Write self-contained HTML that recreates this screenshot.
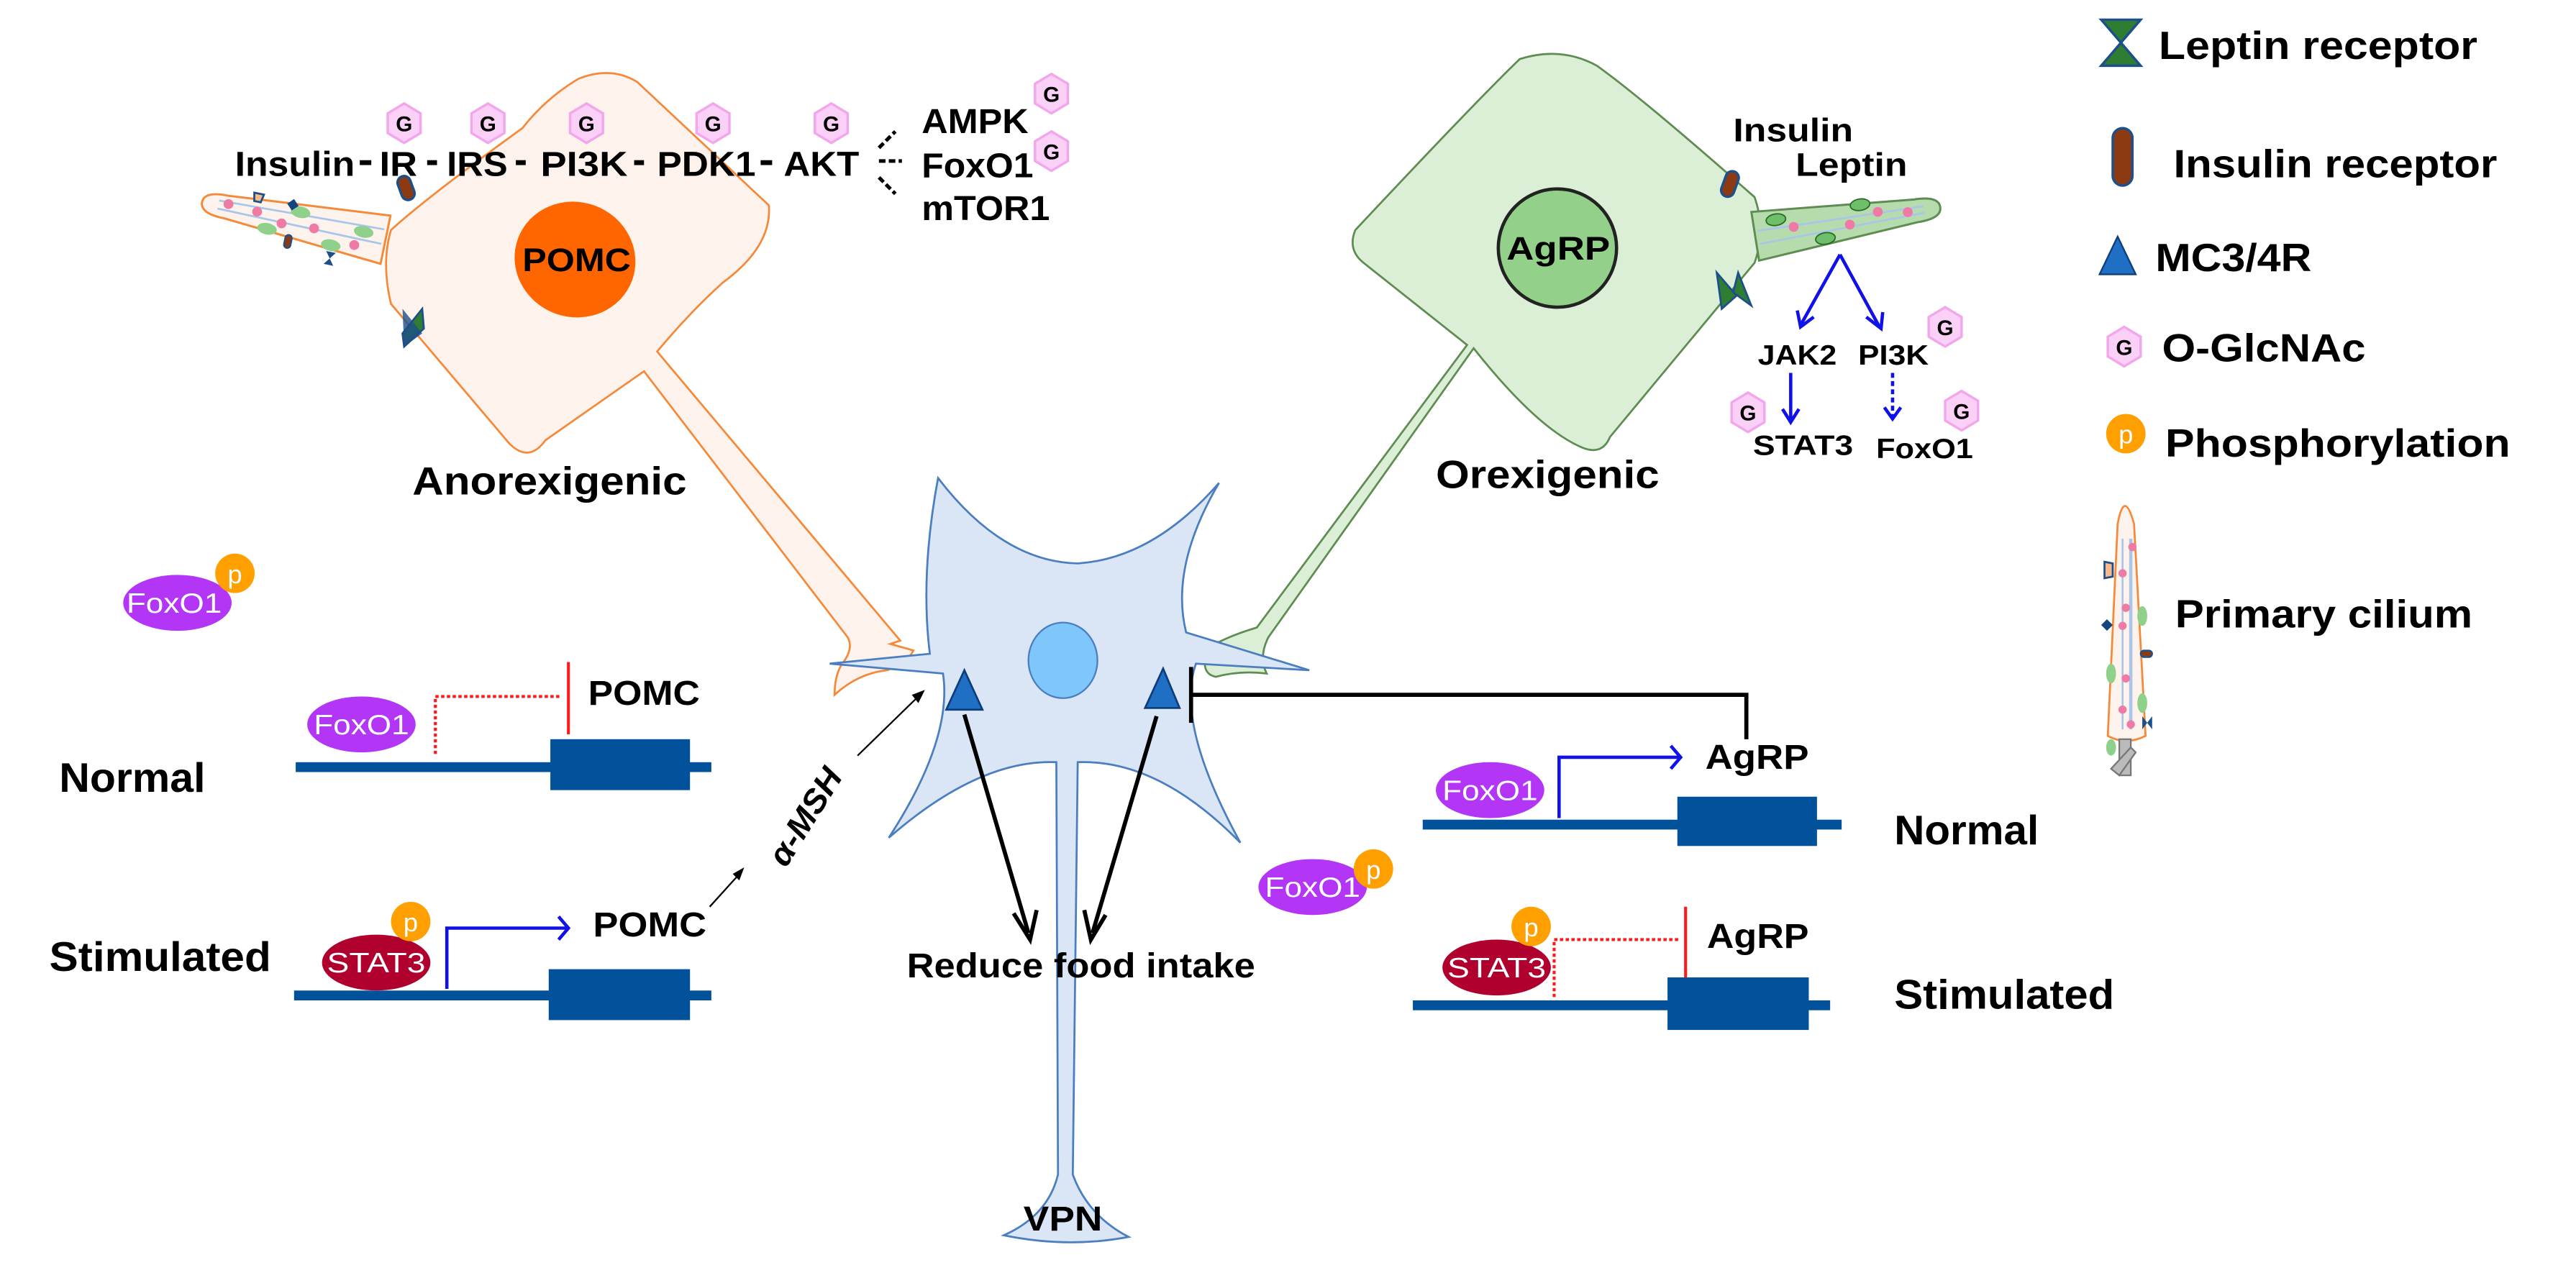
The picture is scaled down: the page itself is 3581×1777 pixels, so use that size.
<!DOCTYPE html>
<html><head><meta charset="utf-8">
<style>
html,body{margin:0;padding:0;background:#fff;}
svg{display:block;}
text{font-family:"Liberation Sans",Arial,sans-serif;font-weight:bold;fill:#000;}
</style></head>
<body>
<svg width="3581" height="1777" viewBox="0 0 1568 778" preserveAspectRatio="none" xmlns="http://www.w3.org/2000/svg">
<defs>
  <g id="hex">
    <polygon points="0,-12 10,-6 10,6 0,12 -10,6 -10,-6" fill="#fbd0f6" stroke="#f2a6ec" stroke-width="1.5"/>
    <text x="0" y="5" font-size="13" text-anchor="middle">G</text>
  </g>
  <g id="cil">
    <path d="M0,0 Q0,-7 15,-7 L114,-15 L114,15 L15,7 Q0,7 0,0 Z" fill="#fef3ec" stroke="#f5893a" stroke-width="1.3"/>
    <line x1="10" y1="-3" x2="112" y2="-6" stroke="#a9c6ea" stroke-width="1.2"/>
    <line x1="10" y1="2" x2="112" y2="3" stroke="#a9c6ea" stroke-width="1.2"/>
    <circle cx="16" cy="-2" r="3" fill="#f07aa6"/><circle cx="34" cy="-1" r="3" fill="#f07aa6"/>
    <circle cx="50" cy="3" r="3" fill="#f07aa6"/><circle cx="70" cy="2" r="3" fill="#f07aa6"/>
    <circle cx="96" cy="7" r="3" fill="#f07aa6"/>
    <ellipse cx="42" cy="8" rx="6" ry="3.5" fill="#8fd18a"/><ellipse cx="60" cy="-6" rx="6" ry="3.5" fill="#8fd18a"/>
    <ellipse cx="82" cy="10" rx="6" ry="3.5" fill="#8fd18a"/><ellipse cx="100" cy="-2" rx="6" ry="3.5" fill="#8fd18a"/>
    <path d="M30,-12 l6,0 l-1,5 l-4,0 z" fill="#f8b98a" stroke="#1d4f8a" stroke-width="1.2"/>
    <rect x="52" y="-12" width="5" height="5" transform="rotate(45 54.5 -9.5)" fill="#14457e"/>
    <rect x="54" y="9" width="4" height="8" rx="2" fill="#8b3a12" stroke="#1d4f8a" stroke-width="1"/>
    <path d="M80,14 l6,0 l-3,4 l3,4 l-6,0 l3,-4 z" fill="#1d4f8a"/>
  </g>
</defs>

<!-- POMC cell -->
<path d="M542,392 L548,390 L400,214 Q420,190 440,172 Q470,150 468,125 L388,50 Q372,40 352,48 Q332,60 318,78 Q260,120 238,140 Q232,160 238,185 L310,270 Q322,282 332,268 L392,226 L516,388 Q520,395 512,405 Q508,412 508,423 Q522,410 540,408 Q552,404 556,396 Z" fill="#fef3ec" stroke="#f5893a" stroke-width="1.2"/>
<ellipse cx="350" cy="158" rx="37" ry="35" transform="rotate(20 350 158)" fill="#ff6600"/>
<text x="318" y="165" font-size="20" textLength="66" lengthAdjust="spacingAndGlyphs">POMC</text>
<use href="#cil" transform="translate(123,123) rotate(11.6)"/>
<rect x="243" y="107" width="8" height="15" rx="4" transform="rotate(-20 247 114)" fill="#8b3a12" stroke="#1d4f8a" stroke-width="1.5"/>
<path d="M245,203 L257,188 L258,200 L246,211 Z" fill="#2f7d32" stroke="#1d4f8a" stroke-width="1.2"/>
<path d="M245,188 L257,203 L246,211 Z" fill="#1d4f8a" opacity="0.8"/>

<!-- pathway -->
<g font-size="21">
<text x="143" y="107" textLength="73" lengthAdjust="spacingAndGlyphs">Insulin</text>
<text x="231" y="107" textLength="23" lengthAdjust="spacingAndGlyphs">IR</text>
<text x="272" y="107" textLength="37" lengthAdjust="spacingAndGlyphs">IRS</text>
<text x="329" y="107" textLength="53" lengthAdjust="spacingAndGlyphs">PI3K</text>
<text x="400" y="107" textLength="60" lengthAdjust="spacingAndGlyphs">PDK1</text>
<text x="477" y="107" textLength="46" lengthAdjust="spacingAndGlyphs">AKT</text>
<text x="561" y="81" textLength="65" lengthAdjust="spacingAndGlyphs">AMPK</text>
<text x="561" y="108" textLength="68" lengthAdjust="spacingAndGlyphs">FoxO1</text>
<text x="561" y="134" textLength="78" lengthAdjust="spacingAndGlyphs">mTOR1</text>
</g>
<g stroke="#000" stroke-width="3">
<line x1="219" y1="99" x2="226" y2="99"/><line x1="260" y1="99" x2="266" y2="99"/>
<line x1="314" y1="99" x2="320" y2="99"/><line x1="386" y1="99" x2="392" y2="99"/>
<line x1="463" y1="99" x2="470" y2="99"/>
</g>
<g stroke="#000" stroke-width="2.2" stroke-dasharray="4,2">
<line x1="535" y1="90" x2="545" y2="80"/><line x1="535" y1="98" x2="549" y2="98"/><line x1="535" y1="108" x2="545" y2="118"/>
</g>
<use href="#hex" x="246" y="75"/><use href="#hex" x="297" y="75"/><use href="#hex" x="357" y="75"/>
<use href="#hex" x="434" y="75"/><use href="#hex" x="506" y="75"/>
<use href="#hex" x="640" y="57"/><use href="#hex" x="640" y="92"/>
<text x="251" y="301" font-size="24" textLength="167" lengthAdjust="spacingAndGlyphs">Anorexigenic</text>

<!-- AgRP cell -->
<path d="M771,410 Q766,400 772,388 L897,212 Q935,260 962,272 Q975,278 980,266 L1068,160 Q1075,140 1068,120 Q1000,60 972,40 Q950,28 925,36 Q900,60 825,140 Q820,152 830,160 L893,210 L765,382 Q745,388 735,395 Q730,410 740,412 Q755,408 771,410 Z" fill="#dbefd6" stroke="#5e8c52" stroke-width="1.2"/>
<ellipse cx="948" cy="151" rx="36" ry="36" fill="#93d18a" stroke="#222" stroke-width="2"/>
<text x="917" y="158" font-size="20" textLength="63" lengthAdjust="spacingAndGlyphs">AgRP</text>
<g transform="translate(1181,126) rotate(171)">
  <path d="M0,0 Q0,-7 15,-7 L114,-15 L114,15 L15,7 Q0,7 0,0 Z" fill="#b6dcae" stroke="#5e8c52" stroke-width="1.3"/>
  <line x1="10" y1="-2" x2="112" y2="-5" stroke="#a9c6ea" stroke-width="1.2"/>
  <line x1="10" y1="2" x2="112" y2="3" stroke="#a9c6ea" stroke-width="1.2"/>
  <circle cx="20" cy="0" r="3" fill="#f07aa6"/><circle cx="38" cy="3" r="3" fill="#f07aa6"/>
  <circle cx="56" cy="-2" r="3" fill="#f07aa6"/><circle cx="90" cy="2" r="3" fill="#f07aa6"/>
  <ellipse cx="48" cy="9" rx="6" ry="3.5" fill="#6fbf6a" stroke="#2b6b2a" stroke-width="0.8"/>
  <ellipse cx="72" cy="-8" rx="6" ry="3.5" fill="#6fbf6a" stroke="#2b6b2a" stroke-width="0.8"/>
  <ellipse cx="100" cy="8" rx="6" ry="3.5" fill="#6fbf6a" stroke="#2b6b2a" stroke-width="0.8"/>
</g>
<rect x="1049" y="104" width="8" height="16" rx="4" transform="rotate(20 1053 112)" fill="#8b3a12" stroke="#1d4f8a" stroke-width="1.5"/>
<path d="M1045,166 L1057,180 L1048,188 Z M1058,166 L1066,186 L1055,178 Z" fill="#2f7d32" stroke="#1d4f8a" stroke-width="1.2"/>
<text x="1055" y="86" font-size="20" textLength="73" lengthAdjust="spacingAndGlyphs">Insulin</text>
<text x="1093" y="107" font-size="20" textLength="68" lengthAdjust="spacingAndGlyphs">Leptin</text>
<g stroke="#1010e8" stroke-width="2" fill="none">
<line x1="1120" y1="155" x2="1096" y2="198"/><polyline points="1094,189 1096,199 1104,193"/>
<line x1="1120" y1="155" x2="1144" y2="199"/><polyline points="1136,193 1145,200 1146,190"/>
<line x1="1090" y1="227" x2="1090" y2="256"/><polyline points="1085,249 1090,257 1095,249"/>
<line x1="1152" y1="227" x2="1152" y2="254" stroke-dasharray="3,2"/><polyline points="1147,248 1152,255 1157,248"/>
</g>
<g font-size="17">
<text x="1070" y="222" textLength="48" lengthAdjust="spacingAndGlyphs">JAK2</text>
<text x="1131" y="222" textLength="43" lengthAdjust="spacingAndGlyphs">PI3K</text>
<text x="1067" y="277" textLength="61" lengthAdjust="spacingAndGlyphs">STAT3</text>
<text x="1142" y="279" textLength="59" lengthAdjust="spacingAndGlyphs">FoxO1</text>
</g>
<use href="#hex" x="1184" y="199"/><use href="#hex" x="1064" y="251"/><use href="#hex" x="1194" y="250"/>
<text x="874" y="297" font-size="24" textLength="136" lengthAdjust="spacingAndGlyphs">Orexigenic</text>

<!-- VPN neuron -->
<path d="M571,291 Q610,342 656,343 Q702,340 742,294 Q712,345 722,385 L797,408 L728,404 Q715,440 755,513 Q705,462 656,464 L653,715 Q662,740 687,753 Q650,760 611,752 Q638,740 644,715 L643,464 Q596,462 541,510 Q580,450 574,410 L505,404 L566,398 Q560,350 571,291 Z" fill="#dae6f5" stroke="#4a7ec0" stroke-width="1.2"/>
<ellipse cx="647" cy="402" rx="21" ry="23" fill="#7fc6fb" stroke="#4a7ec0" stroke-width="1"/>
<polygon points="587,408 576,432 598,432" fill="#1f6fc5" stroke="#0d3d7a" stroke-width="1.2"/>
<polygon points="708,407 697,431 718,431" fill="#1f6fc5" stroke="#0d3d7a" stroke-width="1.2"/>
<text x="623" y="749" font-size="21" textLength="48" lengthAdjust="spacingAndGlyphs">VPN</text>
<text x="552" y="595" font-size="21" textLength="212" lengthAdjust="spacingAndGlyphs">Reduce food intake</text>
<g stroke="#000" stroke-width="2.5" fill="none">
<line x1="587" y1="435" x2="626" y2="568"/><polyline points="617,556 627,572 631,554"/>
<line x1="704" y1="436" x2="665" y2="568"/><polyline points="660,554 664,572 673,557"/>
</g>
<!-- inhibition from AgRP gene -->
<g stroke="#000" stroke-width="2.5" fill="none">
<line x1="725" y1="406" x2="725" y2="440"/>
<polyline points="725,423 1063,423 1063,450"/>
</g>
<!-- alpha-MSH -->
<g stroke="#000" stroke-width="1" fill="none">
<line x1="432" y1="552" x2="451" y2="531"/>
<line x1="522" y1="460" x2="561" y2="422"/>
</g>
<polygon points="453,528 446,532 450,536" fill="#000"/>
<polygon points="563,420 555,423 559,428" fill="#000"/>
<text x="490" y="504" font-size="20" font-style="italic" text-anchor="middle" transform="rotate(-58 490 497)" textLength="66" lengthAdjust="spacingAndGlyphs">α-MSH</text>

<!-- left genes -->
<rect x="180" y="464" width="253" height="6" fill="#02529b"/>
<rect x="335" y="450" width="85" height="31" fill="#02529b"/>
<polyline points="265,459 265,424 342,424" stroke="#ff1a1a" stroke-width="1.8" stroke-dasharray="2,1.5" fill="none"/>
<line x1="346" y1="403" x2="346" y2="447" stroke="#ff1a1a" stroke-width="1.8"/>
<ellipse cx="220" cy="441" rx="33" ry="17" fill="#b335f5"/>
<text x="220" y="447" font-size="17" fill="#fff" style="fill:#fff;font-weight:normal" text-anchor="middle" textLength="58" lengthAdjust="spacingAndGlyphs">FoxO1</text>
<text x="358" y="429" font-size="21" textLength="68" lengthAdjust="spacingAndGlyphs">POMC</text>
<text x="36" y="482" font-size="25" textLength="89" lengthAdjust="spacingAndGlyphs">Normal</text>

<rect x="179" y="603" width="254" height="6" fill="#02529b"/>
<rect x="334" y="590" width="86" height="31" fill="#02529b"/>
<ellipse cx="229" cy="586" rx="33" ry="17" fill="#b0002e"/>
<text x="229" y="592" font-size="17" style="fill:#fff;font-weight:normal" text-anchor="middle" textLength="60" lengthAdjust="spacingAndGlyphs">STAT3</text>
<ellipse cx="250" cy="561" rx="12" ry="12" fill="#ff9f00"/>
<text x="250" y="567" font-size="16" style="fill:#fff;font-weight:normal" text-anchor="middle">p</text>
<polyline points="272,602 272,565 345,565" stroke="#1010e8" stroke-width="2" fill="none"/>
<polyline points="340,558 346,565 340,572" stroke="#1010e8" stroke-width="2" fill="none"/>
<text x="361" y="570" font-size="21" textLength="69" lengthAdjust="spacingAndGlyphs">POMC</text>
<text x="30" y="591" font-size="25" textLength="135" lengthAdjust="spacingAndGlyphs">Stimulated</text>

<!-- FoxO1 p left -->
<ellipse cx="108" cy="367" rx="33" ry="17" fill="#b335f5"/>
<text x="106" y="373" font-size="17" style="fill:#fff;font-weight:normal" text-anchor="middle" textLength="58" lengthAdjust="spacingAndGlyphs">FoxO1</text>
<ellipse cx="143" cy="349" rx="12" ry="12" fill="#ff9f00"/>
<text x="143" y="355" font-size="16" style="fill:#fff;font-weight:normal" text-anchor="middle">p</text>

<!-- right genes -->
<rect x="866" y="499" width="255" height="6" fill="#02529b"/>
<rect x="1021" y="485" width="85" height="30" fill="#02529b"/>
<ellipse cx="907" cy="481" rx="33" ry="17" fill="#b335f5"/>
<text x="907" y="487" font-size="17" style="fill:#fff;font-weight:normal" text-anchor="middle" textLength="58" lengthAdjust="spacingAndGlyphs">FoxO1</text>
<polyline points="949,498 949,461 1022,461" stroke="#1010e8" stroke-width="2" fill="none"/>
<polyline points="1017,454 1023,461 1017,468" stroke="#1010e8" stroke-width="2" fill="none"/>
<text x="1038" y="468" font-size="21" textLength="63" lengthAdjust="spacingAndGlyphs">AgRP</text>
<text x="1153" y="514" font-size="25" textLength="88" lengthAdjust="spacingAndGlyphs">Normal</text>

<ellipse cx="799" cy="540" rx="33" ry="17" fill="#b335f5"/>
<text x="799" y="546" font-size="17" style="fill:#fff;font-weight:normal" text-anchor="middle" textLength="58" lengthAdjust="spacingAndGlyphs">FoxO1</text>
<ellipse cx="836" cy="529" rx="12" ry="12" fill="#ff9f00"/>
<text x="836" y="535" font-size="16" style="fill:#fff;font-weight:normal" text-anchor="middle">p</text>

<rect x="860" y="609" width="254" height="6" fill="#02529b"/>
<rect x="1015" y="595" width="86" height="32" fill="#02529b"/>
<polyline points="946,607 946,572 1023,572" stroke="#ff1a1a" stroke-width="1.8" stroke-dasharray="2,1.5" fill="none"/>
<line x1="1026" y1="552" x2="1026" y2="595" stroke="#ff1a1a" stroke-width="1.8"/>
<ellipse cx="911" cy="589" rx="33" ry="17" fill="#b0002e"/>
<text x="911" y="595" font-size="17" style="fill:#fff;font-weight:normal" text-anchor="middle" textLength="60" lengthAdjust="spacingAndGlyphs">STAT3</text>
<ellipse cx="932" cy="564" rx="12" ry="12" fill="#ff9f00"/>
<text x="932" y="570" font-size="16" style="fill:#fff;font-weight:normal" text-anchor="middle">p</text>
<text x="1039" y="577" font-size="21" textLength="62" lengthAdjust="spacingAndGlyphs">AgRP</text>
<text x="1153" y="614" font-size="25" textLength="134" lengthAdjust="spacingAndGlyphs">Stimulated</text>

<!-- legend -->
<path d="M1279,12 L1303,12 L1291,26 Z" fill="#2f7d32" stroke="#1d4f8a" stroke-width="1.5"/>
<path d="M1279,40 L1303,40 L1291,26 Z" fill="#2f7d32" stroke="#1d4f8a" stroke-width="1.5"/>
<text x="1314" y="36" font-size="24" textLength="194" lengthAdjust="spacingAndGlyphs">Leptin receptor</text>
<rect x="1286" y="78" width="12" height="35" rx="6" fill="#8b3a12" stroke="#1d4f8a" stroke-width="1.5"/>
<text x="1323" y="108" font-size="24" textLength="197" lengthAdjust="spacingAndGlyphs">Insulin receptor</text>
<polygon points="1289,144 1278,167 1300,167" fill="#1f6fc5" stroke="#0d3d7a" stroke-width="1"/>
<text x="1312" y="165" font-size="24" textLength="95" lengthAdjust="spacingAndGlyphs">MC3/4R</text>
<use href="#hex" x="1293" y="211"/>
<text x="1316" y="220" font-size="24" textLength="124" lengthAdjust="spacingAndGlyphs">O-GlcNAc</text>
<ellipse cx="1294" cy="264" rx="12" ry="12" fill="#ff9f00"/>
<text x="1294" y="270" font-size="16" style="fill:#fff;font-weight:normal" text-anchor="middle">p</text>
<text x="1318" y="278" font-size="24" textLength="210" lengthAdjust="spacingAndGlyphs">Phosphorylation</text>
<!-- legend cilium -->
<path d="M1283,448 L1289,319 Q1293,297 1299,319 L1306,448 Q1294,454 1283,448 Z" fill="#fef3ec" stroke="#f5893a" stroke-width="1.2"/>
<line x1="1292" y1="328" x2="1292" y2="444" stroke="#a9c6ea" stroke-width="1.2"/>
<line x1="1297" y1="328" x2="1297" y2="444" stroke="#a9c6ea" stroke-width="2"/>
<circle cx="1298" cy="333" r="2.5" fill="#f07aa6"/><circle cx="1292" cy="349" r="2.5" fill="#f07aa6"/>
<circle cx="1294" cy="370" r="2.5" fill="#f07aa6"/><circle cx="1292" cy="381" r="2.5" fill="#f07aa6"/>
<circle cx="1294" cy="413" r="2.5" fill="#f07aa6"/><circle cx="1292" cy="432" r="2.5" fill="#f07aa6"/>
<circle cx="1297" cy="441" r="2.5" fill="#f07aa6"/>
<ellipse cx="1304" cy="375" rx="3" ry="6" fill="#8fd18a"/><ellipse cx="1285" cy="410" rx="3" ry="6" fill="#8fd18a"/>
<ellipse cx="1304" cy="428" rx="3" ry="6" fill="#8fd18a"/><ellipse cx="1285" cy="455" rx="3" ry="5" fill="#8fd18a"/>
<path d="M1281,342 l5,1 l0,8 l-5,1 z" fill="#f8b98a" stroke="#1d4f8a" stroke-width="1.2"/>
<rect x="1280" y="378" width="5" height="5" transform="rotate(45 1282.5 380.5)" fill="#14457e"/>
<rect x="1303" y="396" width="7" height="4" rx="2" fill="#8b3a12" stroke="#1d4f8a" stroke-width="1"/>
<path d="M1304,436 l0,8 l3,-4 l3,4 l0,-8 l-3,4 z" fill="#1d4f8a"/>
<rect x="1290" y="450" width="7" height="22" fill="#bbb" stroke="#777" stroke-width="1"/>
<polygon points="1285,468 1297,455 1300,458 1290,472" fill="#bbb" stroke="#777" stroke-width="1"/>
<text x="1324" y="382" font-size="24" textLength="181" lengthAdjust="spacingAndGlyphs">Primary cilium</text>
</svg>
</body></html>
